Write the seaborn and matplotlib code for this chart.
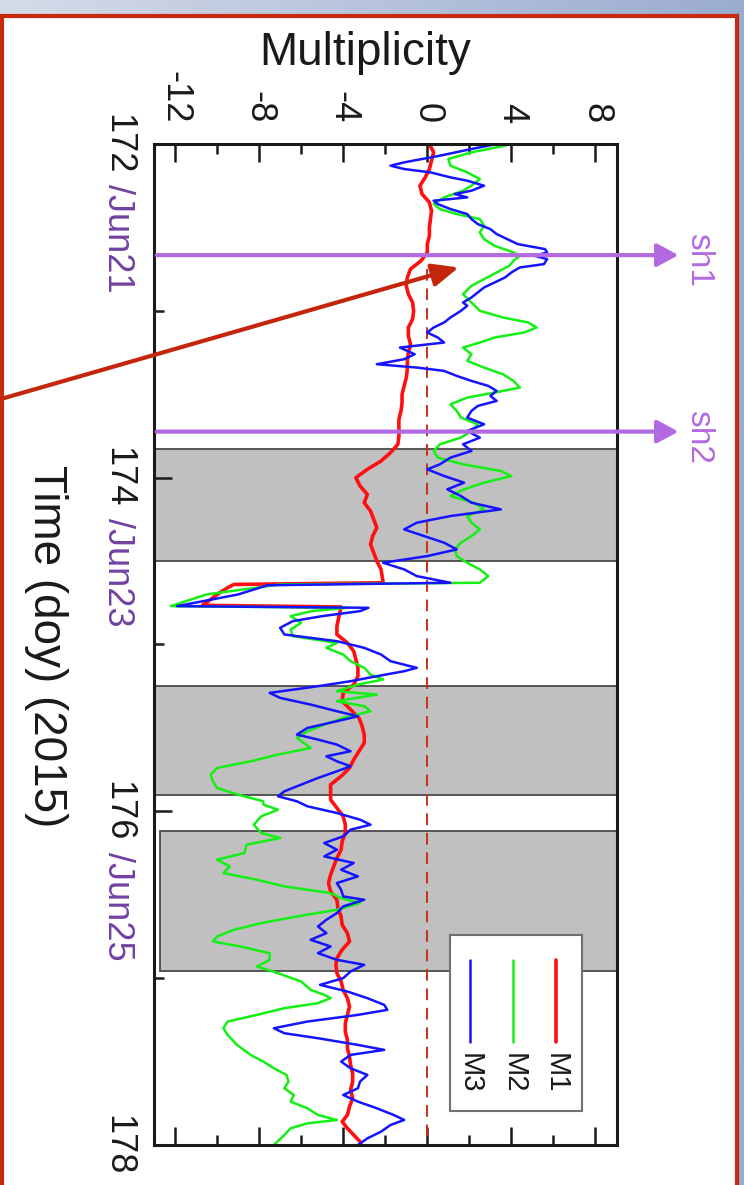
import numpy as np
import matplotlib
matplotlib.use("Agg")
import matplotlib.pyplot as plt
import seaborn as sns
from matplotlib.patches import Rectangle
from matplotlib.lines import Line2D
from matplotlib.colors import LinearSegmentedColormap
from matplotlib.ticker import FixedLocator

# ---------------- data ----------------
# M1 multiplicity vs. time (day of year 2015)
t_m1 = [172.00, 172.05, 172.10, 172.15, 172.20, 172.25, 172.30, 172.35, 172.40, 172.45,
        172.50, 172.55, 172.60, 172.65, 172.70, 172.75, 172.80, 172.85, 172.90, 172.95,
        173.00, 173.05, 173.10, 173.15, 173.20, 173.25, 173.30, 173.35, 173.40, 173.45,
        173.50, 173.55, 173.60, 173.65, 173.70, 173.75, 173.80, 173.85, 173.90, 173.95,
        174.00, 174.05, 174.10, 174.15, 174.20, 174.25, 174.30, 174.35, 174.40, 174.45,
        174.50, 174.55, 174.63, 174.64, 174.66, 174.70, 174.73, 174.765, 174.775, 174.83,
        174.89, 174.94,
        174.99, 175.04, 175.09, 175.14, 175.19, 175.24, 175.29, 175.34, 175.39, 175.44,
        175.49, 175.54, 175.59, 175.64, 175.69, 175.74, 175.79, 175.84, 175.89,
        175.93, 175.98, 176.03, 176.08, 176.13, 176.18, 176.23, 176.28, 176.33, 176.38,
        176.43, 176.48, 176.53, 176.58, 176.63, 176.68, 176.73, 176.78, 176.83, 176.88,
        176.92, 176.97, 177.02, 177.07, 177.12, 177.17, 177.22, 177.27, 177.32, 177.37,
        177.42, 177.47, 177.52, 177.57, 177.62, 177.67, 177.72, 177.77, 177.82, 177.86,
        177.90, 177.94, 177.98, 178.00]
m1 = [0.1, 0.3, 0.2, 0.1, -0.1, -0.35, -0.25, 0.1, 0.2, 0.15,
      0.1, 0.1, 0.0, 0.0, -0.3, -0.8, -0.95, -1.0, -0.9, -0.7,
      -0.65, -0.7, -0.9, -0.9, -0.8, -0.9, -0.95, -0.95, -1.0, -1.1,
      -1.2, -1.2, -1.25, -1.35, -1.35, -1.35, -1.4, -1.75, -2.2, -2.85,
      -3.4, -3.2, -2.85, -3.0, -2.7, -2.55, -2.4, -2.6, -2.7, -2.55,
      -2.4, -2.2, -2.1, -9.2, -9.5, -10.0, -10.3, -10.7, -4.1, -4.2,
      -4.3, -4.3,
      -3.8, -3.5, -3.4, -3.3, -3.3, -3.5, -4.0, -4.05, -3.65, -3.25,
      -3.1, -3.0, -3.0, -3.25, -3.5, -3.7, -4.1, -4.6, -4.6,
      -4.6, -4.3, -4.0, -3.9, -3.9, -4.05, -4.1, -4.3, -4.45, -4.6,
      -4.7, -4.6, -4.3, -4.25, -4.1, -4.05, -3.8, -3.7, -4.05, -4.3,
      -4.35, -4.3, -4.1, -4.0, -3.8, -3.7, -3.8, -3.9, -3.9, -3.8,
      -3.8, -3.7, -3.65, -3.55, -3.55, -3.65, -3.55, -3.7, -3.8, -4.05,
      -3.8, -3.5, -3.2, -3.15]

# M2 multiplicity
t_m2 = [172.00, 172.01, 172.05, 172.09, 172.13, 172.17, 172.21, 172.25, 172.28, 172.32,
        172.36, 172.39, 172.42, 172.45, 172.49, 172.53, 172.57, 172.61, 172.65, 172.67,
        172.70, 172.73, 172.77, 172.81, 172.85, 172.90, 172.95,
        173.00, 173.04, 173.07, 173.10, 173.13, 173.16, 173.19, 173.22, 173.26, 173.30,
        173.34, 173.38, 173.42, 173.46, 173.49, 173.52, 173.56, 173.60, 173.64, 173.68,
        173.72, 173.76, 173.80, 173.84, 173.88, 173.92, 173.96,
        173.99, 174.03, 174.07, 174.11, 174.15, 174.19, 174.23, 174.27, 174.31, 174.35,
        174.39, 174.43, 174.47, 174.51, 174.55, 174.59, 174.63, 174.64, 174.70, 174.77,
        174.78, 174.80, 174.83, 174.87, 174.91, 174.95,
        174.99, 175.02, 175.06, 175.10, 175.14, 175.18, 175.21, 175.24, 175.28, 175.30,
        175.34, 175.37, 175.40, 175.44, 175.48, 175.52, 175.56, 175.62, 175.66, 175.70,
        175.74, 175.78, 175.82, 175.86, 175.90, 175.94,
        175.96, 175.99, 176.03, 176.08, 176.13, 176.16, 176.20, 176.25, 176.29, 176.33,
        176.37, 176.41, 176.45, 176.49, 176.52, 176.55, 176.59, 176.63, 176.67, 176.71,
        176.75, 176.78, 176.81, 176.85, 176.89, 176.93,
        176.97, 177.02, 177.07, 177.10, 177.12, 177.15, 177.18, 177.22, 177.26, 177.30,
        177.34, 177.40, 177.46, 177.50, 177.54, 177.58, 177.62, 177.66, 177.70, 177.74,
        177.78, 177.82, 177.85, 177.87, 177.90, 177.94, 178.00]
m2 = [3.9, 3.7, 2.1, 1.0, 1.1, 1.9, 2.5, 2.1, 1.7, 0.8,
      0.3, 0.6, 1.4, 2.5, 2.7, 2.5, 2.7, 3.2, 4.1, 4.4,
      4.1, 3.9, 3.3, 2.7, 2.1, 1.7, 2.1,
      2.5, 3.6, 4.8, 5.2, 4.6, 3.2, 2.5, 1.7, 2.1, 1.9,
      2.7, 3.6, 4.1, 4.4, 3.2, 1.9, 1.1, 1.4, 1.6, 2.4,
      2.1, 1.6, 0.6, 0.3, 0.5, 1.7, 3.5,
      4.0, 2.7, 1.75, 1.1, 2.2, 2.7, 1.9, 2.1, 2.5, 2.1,
      1.6, 1.3, 1.4, 1.9, 2.5, 2.9, 2.5, -7.0, -10.5, -12.2,
      -3.8, -5.5, -6.5, -6.0, -6.5, -6.4,
      -4.3, -4.8, -4.0, -3.65, -3.0, -2.7, -2.1, -3.3, -4.3, -2.4,
      -4.3, -3.0, -2.7, -4.0, -4.9, -5.7, -6.2, -5.55, -7.1, -8.4,
      -10.0, -10.3, -10.2, -10.0, -9.0, -7.8,
      -7.8, -7.1, -7.9, -8.25, -7.9, -7.0, -8.6, -8.7, -10.0, -9.4,
      -9.7, -8.1, -6.8, -4.6, -4.1, -3.2, -4.3, -6.2, -7.9, -9.2,
      -10.0, -10.2, -8.9, -7.5, -7.5, -8.1,
      -7.1, -6.0, -5.55, -4.9, -4.6, -5.2, -6.8, -8.1, -9.5, -9.7,
      -9.5, -9.05, -8.4, -7.8, -7.3, -6.7, -6.6, -6.8, -6.35, -6.5,
      -5.7, -5.2, -4.3, -5.7, -6.5, -6.8, -7.3]

# M3 multiplicity
t_m3 = [172.00, 172.03, 172.07, 172.11, 172.13, 172.15, 172.17, 172.20, 172.22, 172.25,
        172.28, 172.30, 172.32, 172.34, 172.36, 172.39, 172.42, 172.45, 172.48, 172.51,
        172.54, 172.57, 172.60, 172.63, 172.65, 172.67, 172.69, 172.72, 172.74, 172.77,
        172.80, 172.83, 172.86, 172.89, 172.92, 172.95, 172.97,
        173.00, 173.04, 173.07, 173.10, 173.13, 173.16, 173.19, 173.22, 173.26, 173.29,
        173.32, 173.34, 173.36, 173.39, 173.42, 173.45, 173.48, 173.51, 173.54, 173.57,
        173.60, 173.64, 173.68, 173.72, 173.76, 173.80, 173.84, 173.88, 173.92, 173.95,
        173.99, 174.03, 174.07, 174.11, 174.15, 174.19, 174.23, 174.27, 174.31, 174.35,
        174.39, 174.43, 174.47, 174.51, 174.55, 174.59, 174.63, 174.645, 174.70, 174.77,
        174.78, 174.80, 174.83, 174.86, 174.90, 174.94,
        174.98, 175.02, 175.06, 175.10, 175.14, 175.16, 175.19, 175.22, 175.25, 175.29,
        175.32, 175.36, 175.40, 175.43, 175.46, 175.50, 175.54, 175.57, 175.60, 175.64,
        175.67, 175.70, 175.73, 175.76, 175.80, 175.84, 175.88, 175.91, 175.94,
        175.97, 176.01, 176.05, 176.08, 176.11, 176.15, 176.19, 176.23, 176.27, 176.31,
        176.35, 176.39, 176.43, 176.47, 176.51, 176.53, 176.57, 176.61, 176.65, 176.69,
        176.73, 176.77, 176.81, 176.85, 176.89, 176.92,
        176.96, 177.00, 177.04, 177.08, 177.12, 177.16, 177.19, 177.22, 177.26, 177.30,
        177.33, 177.36, 177.40, 177.43, 177.46, 177.50, 177.54, 177.58, 177.62, 177.66,
        177.70, 177.74, 177.78, 177.82, 177.85, 177.88, 177.92, 177.96, 178.00]
m3 = [3.3, 2.1, 0.6, -1.1, -1.75, -1.1, 0.15, 1.1, 1.9, 2.7,
      2.1, 1.3, 1.9, 0.3, 0.5, 1.1, 1.9, 2.1, 2.4, 3.0,
      3.3, 3.8, 4.3, 5.6, 5.7, 5.1, 5.7, 5.55, 4.4, 4.0,
      3.7, 3.2, 2.7, 2.4, 2.1, 1.7, 1.9,
      1.6, 1.1, 0.8, 0.3, 0.0, 0.5, 0.8, -1.3, -0.6, -1.1,
      -2.4, -0.5, 0.8, 1.4, 2.1, 2.9, 3.3, 3.0, 3.3, 2.4,
      2.1, 1.9, 2.7, 1.9, 2.5, 1.7, 2.1, 1.1, 0.6, 0.0,
      0.8, 1.75, 0.95, 1.6, 2.1, 3.5, 1.1, -0.5, -1.1, -0.15,
      0.8, 1.4, 0.0, -2.1, -1.1, -0.5, 1.1, -7.6, -9.0, -11.9,
      -2.8, -3.2, -5.0, -6.4, -7.0, -6.8,
      -4.3, -3.0, -2.2, -1.75, -0.5, -1.1, -2.4, -3.65, -5.2, -7.5,
      -7.0, -5.55, -4.3, -3.3, -4.3, -5.7, -6.2, -5.2, -4.3, -3.65,
      -4.8, -4.3, -3.65, -4.3, -5.2, -6.0, -6.8, -7.1, -6.2,
      -5.7, -4.3, -3.2, -2.7, -3.65, -4.0, -4.9, -4.3, -4.9, -3.5,
      -4.1, -3.3, -4.3, -4.1, -4.0, -3.0, -4.0, -4.3, -4.8, -5.2,
      -4.8, -5.55, -4.6, -5.2, -4.3, -3.0,
      -3.65, -4.0, -5.1, -3.8, -2.85, -2.05, -1.9, -3.3, -5.7, -7.3,
      -6.8, -5.2, -3.3, -2.05, -3.65, -4.1, -3.65, -2.85, -3.2, -3.3,
      -4.0, -3.3, -2.4, -1.6, -1.1, -1.75, -2.2, -2.85, -3.3]

series_names = ["M1", "M2", "M3"]
series_colors = ["#ff0f0f", "#14f014", "#1414ff"]
series_widths = [2.6, 1.8, 1.8]

# shaded intervals (doy)
band_start = [173.83, 175.25, 176.12]
band_end = [174.50, 175.90, 176.96]

# shock times
sh_times = [172.666, 173.724]
sh_labels = ["sh1", "sh2"]

# axis ticks
mult_ticks = [-12, -8, -4, 0, 4, 8]
mult_labels = ["-12", "-8", "-4", "0", "4", "8"]
time_ticks = [172, 174, 176, 178]
time_numbers = ["172", "174", "176", "178"]
time_dates = ["/Jun21", "/Jun23", "/Jun25", ""]

# ---------------- style ----------------
sns.set_theme(style="ticks")
plt.rcParams["font.family"] = ["Liberation Sans", "DejaVu Sans"]
plt.rcParams["axes.unicode_minus"] = False

W, H = 744, 1185
fig = plt.figure(figsize=(W / 100, H / 100), dpi=100)

# slide background: horizontal blue gradient with a red-bordered white panel
bg = fig.add_axes([0, 0, 1, 1], zorder=-10)
slide_cmap = LinearSegmentedColormap.from_list("slide", ["#d5dbe8", "#9aacd0"])
bg.imshow(np.linspace(0, 1, 256)[None, :], aspect="auto", cmap=slide_cmap,
          extent=[0, 1, 0, 1])
bg.set_axis_off()
panel = Rectangle((2 / W, -0.02), (736.5 - 2) / W, 1.02 - 16 / H,
                  transform=fig.transFigure, facecolor="white",
                  edgecolor="#c8290f", lw=3, zorder=-5)
fig.add_artist(panel)

# main axes: multiplicity horizontal, time running downward
ax = fig.add_axes([154 / W, 1 - 1145 / H, 462.5 / W, 1001 / H])
ax.set_facecolor("white")

purple = "#b36ae0"
date_purple = "#7141a1"
arrow_red = "#c4260c"

for i, (s, e) in enumerate(zip(band_start, band_end)):
    left = 0.013 if i == 2 else 0.0
    ax.axhspan(s, e, xmin=left, xmax=1, facecolor="#c0c0c0",
               edgecolor="#4a4a4a", lw=1.3, zorder=0.5)

ax.plot([0, 0], [172.75, 178], color="#c4301a", lw=1.4, dashes=(6, 4), zorder=1)

for (tt, mm), name, col, lw in zip([(t_m1, m1), (t_m2, m2), (t_m3, m3)],
                                    series_names, series_colors, series_widths):
    sns.lineplot(x=mm, y=tt, orient="y", sort=False, estimator=None,
                 color=col, lw=lw, ax=ax, legend=False, zorder=2)

ax.set_xlim(-13, 9)
ax.set_ylim(178, 172)
ax.set_xlabel("")
ax.set_ylabel("")

# ticks
ax.xaxis.set_major_locator(FixedLocator(mult_ticks))
ax.xaxis.set_minor_locator(FixedLocator([-10, -6, -2, 2, 6]))
ax.set_xticklabels(mult_labels)
ax.yaxis.set_major_locator(FixedLocator(time_ticks))
ax.yaxis.set_minor_locator(FixedLocator([173, 175, 177]))
ax.set_yticklabels([])
ax.tick_params(axis="x", which="both", direction="in", top=True, bottom=True,
               labeltop=True, labelbottom=False, color="#1a1a1a", width=1.8)
ax.tick_params(axis="x", which="major", length=13, pad=15, labelsize=26,
               labelrotation=-90, labelcolor="#1a1a1a")
ax.tick_params(axis="x", which="minor", length=7)
ax.tick_params(axis="y", which="both", direction="in", left=True, right=False,
               labelleft=False, color="#1a1a1a", width=1.8)
ax.tick_params(axis="y", which="major", length=13)
ax.tick_params(axis="y", which="minor", length=7)
for sp in ax.spines.values():
    sp.set_linewidth(2.2)
    sp.set_color("#1a1a1a")
    sp.set_zorder(4)

# time tick labels: day number centred on tick, date appended in purple
for tv, num, date in zip(time_ticks, time_numbers, time_dates):
    ax.annotate(num, xy=(0, tv), xycoords=("axes fraction", "data"),
                xytext=(-26, 0), textcoords="offset points", rotation=-90,
                rotation_mode="anchor", ha="center", va="center", fontsize=26,
                color="#1a1a1a", annotation_clip=False)
    if date:
        ax.annotate(date, xy=(0, tv), xycoords=("axes fraction", "data"),
                    xytext=(-26, -29), textcoords="offset points", rotation=-90,
                    rotation_mode="anchor", ha="left", va="center", fontsize=26,
                    color=date_purple, annotation_clip=False)

# axis titles
fig.text(365 / W, 1 - 65 / H, "Multiplicity", ha="center", va="baseline",
         fontsize=33, color="#1a1a1a")
fig.text(46 / W, 1 - 646 / H, "Time (doy) (2015)", rotation=-90, ha="center",
         va="center", fontsize=33, color="#1a1a1a")

# legend box drawn in rotated orientation
ax.add_patch(Rectangle((0.640, 0.034), 0.285, 0.176, transform=ax.transAxes,
                       facecolor="white", edgecolor="#707070", lw=1.5, zorder=5))
for lx, name, col, lw in zip([0.869, 0.7765, 0.683], series_names, series_colors,
                             series_widths):
    ax.add_line(Line2D([lx, lx], [0.185, 0.103], transform=ax.transAxes,
                       color=col, lw=lw, zorder=6))
    ax.text(lx, 0.092, name, transform=ax.transAxes, rotation=-90,
            rotation_mode="anchor", ha="left", va="center", fontsize=21,
            color="#1a1a1a", zorder=6)

# shock markers
for ts, lab in zip(sh_times, sh_labels):
    ax.annotate("", xy=(11.95, ts), xytext=(-12.87, ts),
                arrowprops=dict(arrowstyle="-|>,head_length=0.65,head_width=0.35",
                                color=purple, lw=3, shrinkA=0, shrinkB=0,
                                mutation_scale=20),
                annotation_clip=False, zorder=7)
    ax.text(12.9, ts + 0.03, lab, rotation=-90, ha="center", va="center",
            color=purple, fontsize=24, clip_on=False, zorder=7)

# pointer arrow
ax.annotate("", xy=(1.49, 172.74), xytext=(-20.6, 173.54),
            arrowprops=dict(arrowstyle="-|>,head_length=0.8,head_width=0.35",
                            color=arrow_red, lw=3, shrinkA=0, shrinkB=0,
                            mutation_scale=20),
            annotation_clip=False, zorder=8)

fig.savefig("out.png", dpi=100)
